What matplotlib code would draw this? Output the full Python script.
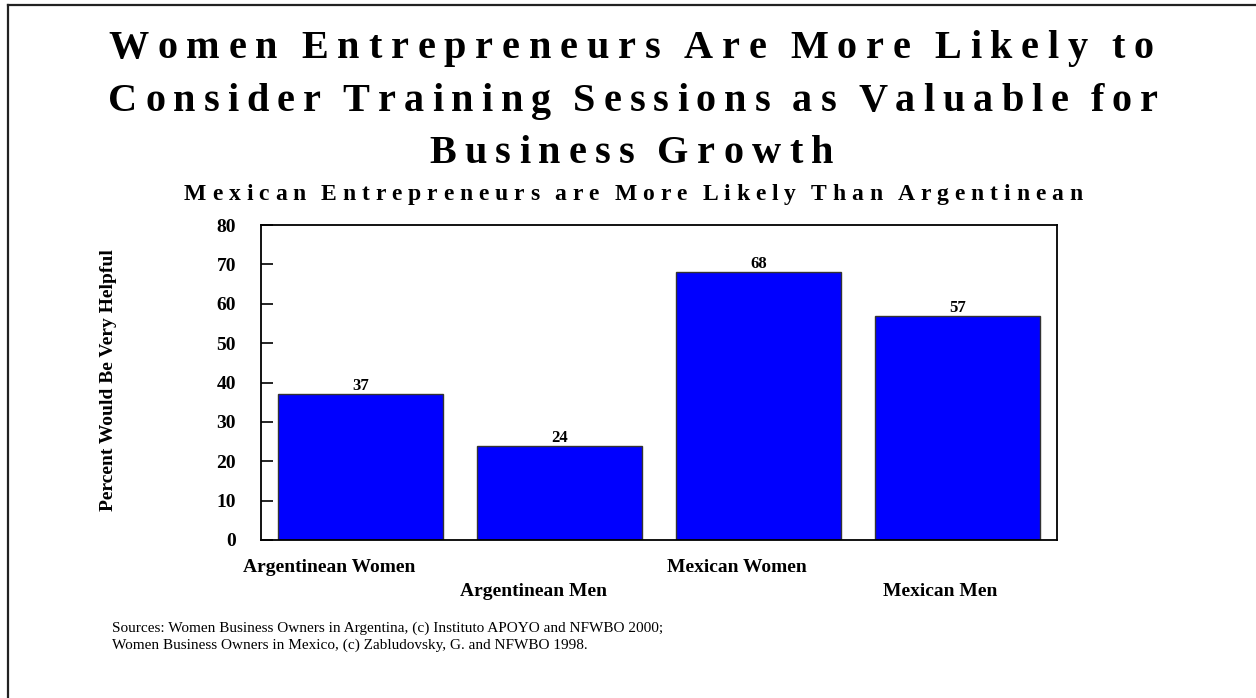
import matplotlib
matplotlib.use("Agg")
import matplotlib.pyplot as plt
from matplotlib.font_manager import FontProperties, findfont
from matplotlib.ft2font import FT2Font
from matplotlib.lines import Line2D

# data
categories = ["Argentinean Women", "Argentinean Men", "Mexican Women", "Mexican Men"]
values = [37, 24, 68, 57]
yticks = [0, 10, 20, 30, 40, 50, 60, 70, 80]

title_lines = ["Women Entrepreneurs Are More Likely to",
               "Consider Training Sessions as Valuable for",
               "Business Growth"]
subtitle = "Mexican Entrepreneurs are More Likely Than Argentinean"
ylabel = "Percent Would Be Very Helpful"
sources = ("Sources: Women Business Owners in Argentina, (c) Instituto APOYO and NFWBO 2000;\n"
           "Women Business Owners in Mexico, (c) Zabludovsky, G. and NFWBO 1998.")

W, H = 1256, 698
DPI = 100
SERIF = "Liberation Serif"

fig = plt.figure(figsize=(W / DPI, H / DPI), dpi=DPI)
fig.patch.set_facecolor("white")


def spaced_text(s, left, right, baseline, size, space=0.6):
    """write s letter by letter, spread evenly between left and right (pixels)"""
    fp = FontProperties(family=SERIF, weight="bold", size=size)
    ft = FT2Font(findfont(fp))
    ft.set_size(size, DPI)
    adv = [ft.load_char(ord(c)).linearHoriAdvance / 65536.0 * (space if c == " " else 1)
           for c in s]
    gap = (right - left - sum(adv)) / (len(s) - 1)
    x = left
    for c, a in zip(s, adv):
        if c != " ":
            fig.text(x / W, 1 - baseline / H, c, fontproperties=fp,
                     ha="left", va="baseline")
        x += a + gap


# title block
spaced_text(title_lines[0], 108, 1154, 58, 29)
spaced_text(title_lines[1], 108, 1158, 111, 29)
spaced_text(title_lines[2], 429, 833, 163, 29)
spaced_text(subtitle, 184, 1082, 200, 17)

# plot area
ax = fig.add_axes([261 / W, 1 - 540 / H, (1057 - 261) / W, (540 - 225) / H])
x = range(len(categories))
bars = ax.bar(x, values, width=0.83, color="#0000FF", edgecolor="#333333", linewidth=1)
ax.set_xlim(-0.5, len(categories) - 0.5)
ax.set_ylim(0, 80)
ax.set_yticks(yticks)
ax.set_xticks([])
ax.tick_params(axis="y", direction="in", length=8.6, width=1.2, pad=18)
for lab in ax.get_yticklabels():
    lab.set_fontproperties(FontProperties(family=SERIF, weight="bold", size=14))
for sp in ax.spines.values():
    sp.set_linewidth(1.3)
    sp.set_color("black")

# value labels on bars
for b, v in zip(bars, values):
    ax.annotate(str(v), (b.get_x() + b.get_width() / 2, v), xytext=(0, 0),
                textcoords="offset pixels", ha="center", va="bottom",
                family=SERIF, weight="bold", fontsize=12)

# staggered category labels, nudged slightly left of the bar centres
for i, cat in enumerate(categories):
    dy = -27 if i % 2 == 0 else -51
    ax.annotate(cat, (i, 0), xycoords=("data", "axes fraction"),
                xytext=(-31 + 4.5 * i, dy), textcoords="offset pixels",
                ha="center", va="center",
                family=SERIF, weight="bold", fontsize=14)

fig.text(109 / W, 1 - 380 / H, ylabel, rotation=90, ha="center", va="center",
         family=SERIF, weight="bold", fontsize=14)

fig.text(112 / W, 1 - 622 / H, sources, ha="left", va="top",
         family=SERIF, fontsize=11, linespacing=1.25)

# frame lines on the left and top edges
fig.add_artist(Line2D([8 / W, 8 / W], [0, 1 - 5 / H], color="#222222", lw=1.6))
fig.add_artist(Line2D([8 / W, 1], [1 - 5 / H, 1 - 5 / H], color="#222222", lw=1.6))

fig.savefig("out.png", dpi=DPI, facecolor="white")
